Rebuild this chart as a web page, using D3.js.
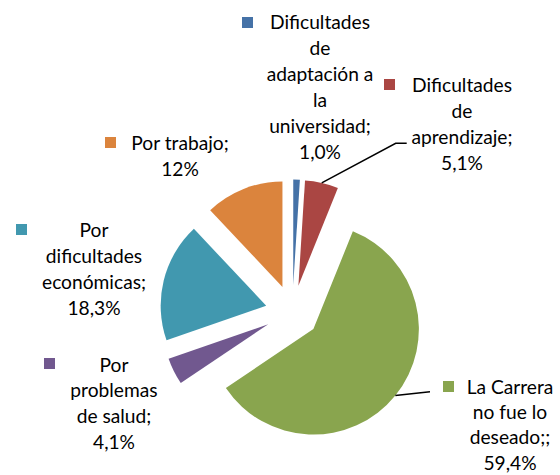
<!DOCTYPE html>
<html>
<head>
<meta charset="utf-8">
<script src="https://cdn.jsdelivr.net/npm/d3@7"></script>
<style>
  html, body { margin: 0; padding: 0; background: #fff; }
  svg { display: block; }
</style>
</head>
<body>
<svg id="chart" width="560" height="475"></svg>
<script>
// ---- Data ----
const categories = [
  "Dificultades de adaptación a la universidad",
  "Dificultades de aprendizaje",
  "La Carrera no fue lo deseado",
  "Por problemas de salud",
  "Por dificultades económicas",
  "Por trabajo"
];
const values = [1.0, 5.1, 59.4, 4.1, 18.3, 12];
const valueLabels = ["1,0%", "5,1%", "59,4%", "4,1%", "18,3%", "12%"];
const labelLines = [
  ["Dificultades", "de", "adaptación a", "la", "universidad;", "1,0%"],
  ["Dificultades", "de", "aprendizaje;", "5,1%"],
  ["La Carrera", "no fue lo", "deseado;;", "59,4%"],
  ["Por", "problemas", "de salud;", "4,1%"],
  ["Por", "dificultades", "económicas;", "18,3%"],
  ["Por trabajo;", "12%"]
];
const colors = ["#4572A7", "#AA4643", "#89A54E", "#71588F", "#4198AF", "#DB843D"];

// ---- Layout (label boxes, leader lines) ----
const center = [292.4, 312.1];
const radius = 105.5;
const explode = 27;
const labelLayout = [
  { sx: 242, sy: 17, cx: 320, by: 29, lh: 25.9 },
  { sx: 384, sy: 79, cx: 462, by: 92, lh: 25.9 },
  { sx: 443, sy: 381, cx: 510, by: 393.5, lh: 25.4 },
  { sx: 44, sy: 358, cx: 114, by: 371.5, lh: 25.7 },
  { sx: 16, sy: 224, cx: 94, by: 237, lh: 25.9 },
  { sx: 105, sy: 137, cx: 180, by: 150, lh: 25.9 }
];
// leader lines: index -> elbow and end points
const leaders = {
  1: [[395.7, 143.3], [406.7, 143.3]],
  2: [[430, 391.7]]
};

const svg = d3.select("#chart");
const fontFamily = "Lato, 'Open Sans', sans-serif";

// fit font size so that "Dificultades" is ~100px wide (Calibri-like)
const probe = svg.append("text").attr("font-family", fontFamily).attr("font-size", 20).text("Dificultades");
const w20 = probe.node().getComputedTextLength();
probe.remove();
const fontSize = 20 * 100 / w20;

const pie = d3.pie().sort(null).value(d => d)(values);
const arc = d3.arc().innerRadius(0).outerRadius(radius);

const g = svg.append("g").attr("transform", `translate(${center[0]},${center[1]})`);

pie.forEach((p, i) => {
  const mid = (p.startAngle + p.endAngle) / 2;
  const dx = Math.sin(mid) * explode, dy = -Math.cos(mid) * explode;
  g.append("path")
    .attr("d", arc(p))
    .attr("transform", `translate(${dx},${dy})`)
    .attr("fill", colors[i]);
  if (leaders[i]) {
    const sx = center[0] + dx + Math.sin(mid) * radius;
    const sy = center[1] + dy - Math.cos(mid) * radius;
    const pts = [[sx, sy]].concat(leaders[i]);
    svg.append("path")
      .attr("d", d3.line()(pts))
      .attr("fill", "none")
      .attr("stroke", "#000")
      .attr("stroke-width", 1.5);
  }
});

labelLines.forEach((lines, i) => {
  const L = labelLayout[i];
  svg.append("rect")
    .attr("x", L.sx).attr("y", L.sy)
    .attr("width", 11).attr("height", 11)
    .attr("fill", colors[i]);
  const t = svg.append("text")
    .attr("font-family", fontFamily)
    .attr("font-size", fontSize)
    .attr("fill", "#000")
    .attr("text-anchor", "middle");
  lines.forEach((ln, k) => {
    t.append("tspan").attr("x", L.cx).attr("y", L.by + k * L.lh).text(ln);
  });
});
</script>
</body>
</html>
